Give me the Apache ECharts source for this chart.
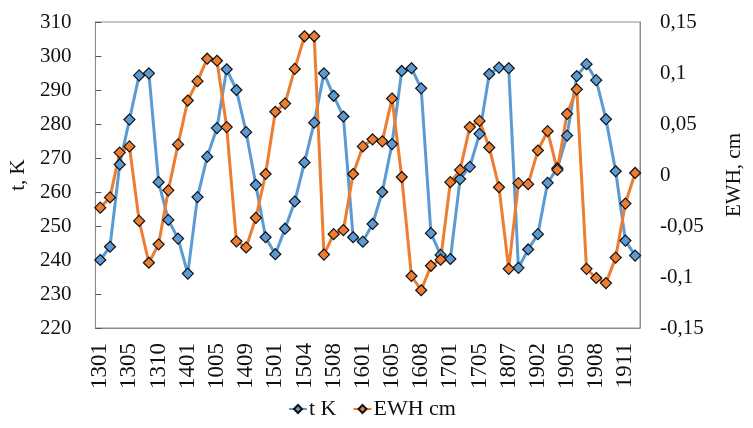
<!DOCTYPE html>
<html><head><meta charset="utf-8">
<script src="https://cdn.jsdelivr.net/npm/echarts@6/dist/echarts.min.js"></script>
<style>html,body{margin:0;padding:0;background:#fff}#c{width:753px;height:428px}</style>
</head><body><div id="c"></div>
<script>
var categories = ['1301','1302','1304','1305','1307','1308','1310','1311','1312','1401',
  '1402','1403','1005','1406','1408','1409','1410','1411','1501','1502',
  '1503','1504','1506','1507','1508','1509','1511','1601','1602','1603',
  '1605','1606','1607','1608','1609','1611','1701','1703','1704','1705',
  '1706','1806','1807','1810','1811','1902','1903','1904','1905','1906',
  '1907','1908','1909','1910','1911','1912'];
var tK = [240.0,243.9,268.1,281.3,294.3,294.9,262.9,251.8,246.3,236.0,
  258.5,270.4,278.8,296.1,290.0,277.6,262.1,246.7,241.7,249.2,
  257.2,268.7,280.4,294.9,288.3,282.2,246.7,245.4,250.6,260.0,
  274.1,295.6,296.4,290.5,247.9,241.5,240.3,263.8,267.4,277.1,
  294.7,296.6,296.4,237.7,243.1,247.6,262.7,267.0,276.6,294.1,
  297.6,292.9,281.4,266.1,245.7,241.3];
var ewh = [-0.032,-0.022,0.022,0.028,-0.045,-0.086,-0.068,-0.015,0.030,0.073,
  0.092,0.114,0.112,0.047,-0.065,-0.071,-0.042,0.001,0.062,0.070,
  0.104,0.136,0.136,-0.078,-0.058,-0.054,0.001,0.028,0.035,0.033,
  0.075,-0.002,-0.099,-0.113,-0.089,-0.083,-0.007,0.005,0.047,0.053,
  0.027,-0.012,-0.092,-0.008,-0.009,0.024,0.043,0.005,0.060,0.084,
  -0.092,-0.101,-0.106,-0.081,-0.028,0.002];
var leftTicks = {min:220, max:310, step:10};
var rightTicks = {min:-0.15, max:0.15, step:0.05};

var font = 'Liberation Serif';
var chart = echarts.init(document.getElementById('c'));
function fmtComma(v){
  var s = (Math.round(v*100)/100).toFixed(2).replace(/0+$/,'').replace(/\.$/,'');
  if (s === '-0') s = '0';
  return s.replace('.', ',');
}
chart.setOption({
  animation:false,
  textStyle:{fontFamily:font},
  grid:{left:94,right:105,top:22,bottom:100,show:true,borderColor:'#8c8c8c',borderWidth:1,backgroundColor:'transparent'},
  legend:{
    top:398,left:288,itemWidth:18,itemHeight:10,itemGap:16,padding:0,
    textStyle:{fontFamily:font,fontSize:22,color:'#111',padding:[0,0,0,-3]},
    data:['t K','EWH cm']
  },
  xAxis:{
    type:'category',data:categories,boundaryGap:true,
    axisLine:{onZero:false,lineStyle:{color:'#8c8c8c'}},
    axisTick:{inside:true,length:6,interval:0,lineStyle:{color:'#555'}},
    axisLabel:{interval:2,rotate:90,fontSize:23,fontFamily:font,color:'#111',margin:15},
    splitLine:{show:false}
  },
  yAxis:[{
    type:'value',min:leftTicks.min,max:leftTicks.max,interval:leftTicks.step,
    name:'t, K',nameLocation:'middle',nameGap:61,nameRotate:90,
    nameTextStyle:{fontFamily:font,fontSize:21,color:'#111'},
    axisLine:{show:true,onZero:false,lineStyle:{color:'#8c8c8c'}},
    axisTick:{show:true,inside:true,length:6,lineStyle:{color:'#555'}},
    axisLabel:{fontSize:21,fontFamily:font,color:'#111',margin:24},
    splitLine:{show:false}
  },{
    type:'value',position:'right',min:rightTicks.min,max:rightTicks.max,interval:rightTicks.step,
    name:'EWH, cm',nameLocation:'middle',nameGap:84,nameRotate:90,
    nameTextStyle:{fontFamily:font,fontSize:21,color:'#111'},
    axisLine:{show:true,onZero:false,lineStyle:{color:'#8c8c8c'}},
    axisTick:{show:false},
    axisLabel:{fontSize:21,fontFamily:font,color:'#111',margin:20,formatter:fmtComma},
    splitLine:{show:false}
  }],
  series:[{
    name:'t K',type:'line',yAxisIndex:0,data:tK,
    symbol:'diamond',symbolSize:11,showAllSymbol:true,
    lineStyle:{color:'#5B9BD5',width:3},
    itemStyle:{color:'#5B9BD5',borderColor:'#111',borderWidth:1.2}
  },{
    name:'EWH cm',type:'line',yAxisIndex:1,data:ewh,
    symbol:'diamond',symbolSize:11,showAllSymbol:true,
    lineStyle:{color:'#ED7D31',width:3},
    itemStyle:{color:'#ED7D31',borderColor:'#111',borderWidth:1.2}
  }]
});
</script></body></html>
